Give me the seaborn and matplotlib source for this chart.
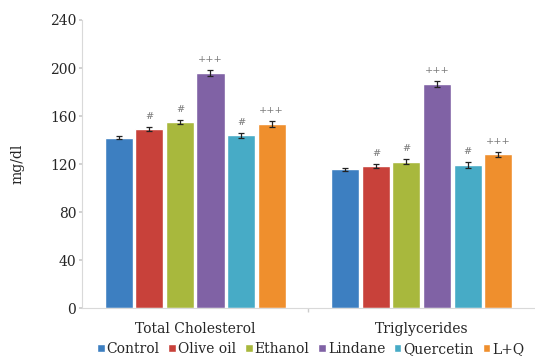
import numpy as np
import pandas as pd
import seaborn as sns
import matplotlib.pyplot as plt

# data
groups = ['Control', 'Olive oil', 'Ethanol', 'Lindane', 'Quercetin', 'L+Q']
params = ['Total Cholesterol', 'Triglycerides']
tc_mean = [142, 149, 155, 196, 144, 153]
tc_err = [1.2, 1.5, 2.0, 2.5, 2.0, 2.5]
tg_mean = [115.5, 118.5, 122, 187, 119, 128]
tg_err = [1.2, 1.5, 2.0, 2.5, 2.5, 2.0]
tc_marks = ['', '#', '#', '+++', '#', '+++']
tg_marks = ['', '#', '#', '+++', '#', '+++']

colors = ['#3d7fc1', '#c8413a', '#a8b83d', '#8062a5', '#47abc6', '#ef8f2d']

df = pd.DataFrame({
    'param': [params[0]] * 6 + [params[1]] * 6,
    'group': groups * 2,
    'value': tc_mean + tg_mean,
    'err': tc_err + tg_err,
    'mark': tc_marks + tg_marks,
})

sns.set_theme(style='white')
plt.rcParams['font.family'] = ['DejaVu Serif', 'Liberation Serif']

fig = plt.figure(figsize=(5.35, 3.57), dpi=100)
ax = fig.add_axes([0.153, 0.137, 0.847, 0.807])

sns.barplot(data=df, x='param', y='value', hue='group', hue_order=groups,
            palette=colors, width=0.81, gap=0.08, errorbar=None,
            saturation=1, ax=ax)

# error bars and significance marks at each bar centre
for i, (p, g) in enumerate([(p, g) for g in groups for p in params]):
    bar = ax.patches[i]
    row = df[(df['param'] == p) & (df['group'] == g)].iloc[0]
    xc = bar.get_x() + bar.get_width() / 2
    ax.errorbar(xc, row['value'], yerr=row['err'], fmt='none',
                ecolor='#222222', elinewidth=0.9, capsize=2, capthick=0.9)
    if row['mark']:
        ax.text(xc, row['value'] + row['err'] + 5, row['mark'],
                ha='center', va='bottom', fontsize=7, color='#777777')

ax.set_ylim(0, 240)
ax.set_xlim(-0.5, 1.5)
ax.set_yticks(range(0, 241, 40))
ax.set_xlabel('')
ax.set_ylabel('mg/dl', fontsize=10, labelpad=18)
ax.tick_params(axis='y', labelsize=10, length=2, color='#cccccc', pad=2, left=True)
ax.tick_params(axis='x', labelsize=10, length=0, pad=10)
ax.set_xticks([0.5], minor=True)
ax.tick_params(axis='x', which='minor', length=3, color='#cccccc', bottom=True)

for s in ['top', 'right']:
    ax.spines[s].set_visible(False)
for s in ['left', 'bottom']:
    ax.spines[s].set_color('#d9d9d9')
    ax.spines[s].set_linewidth(0.8)

leg = ax.legend(loc='upper center', bbox_to_anchor=(0.505, -0.098), ncol=6,
                frameon=False, fontsize=10, handlelength=0.55, handleheight=0.55,
                handletextpad=0.15, columnspacing=0.62, borderaxespad=0)

fig.savefig('out.png', dpi=100)
